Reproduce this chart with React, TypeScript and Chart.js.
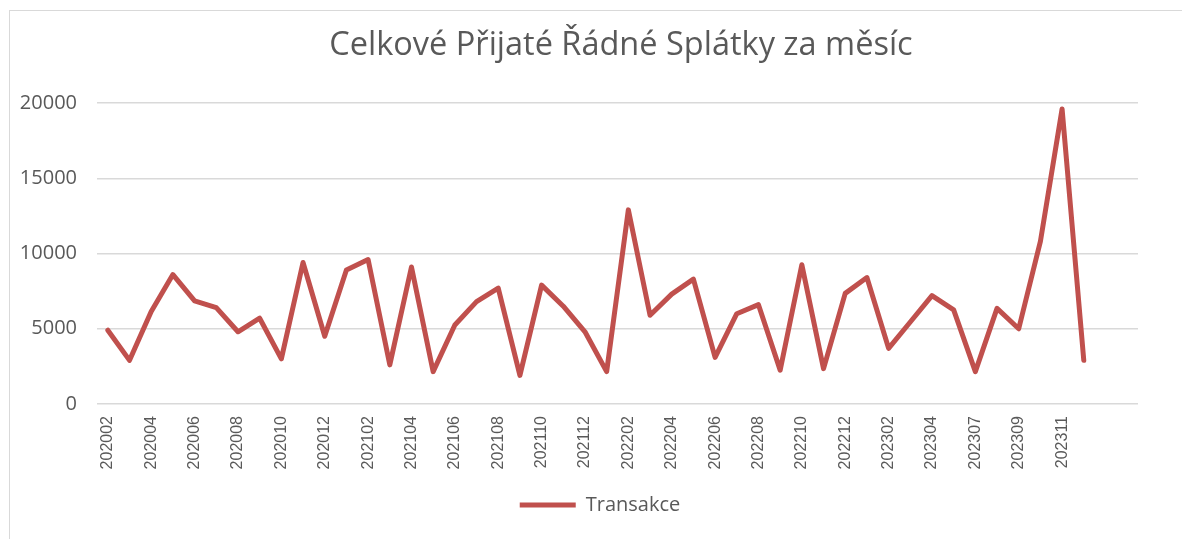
import { useEffect, useRef } from 'react';
import { Chart, registerables } from 'chart.js';

Chart.register(...registerables);

const chartTitle = 'Celkové Přijaté Řádné Splátky za měsíc';
const seriesName = 'Transakce';

const categories = [
  '202002', '202003', '202004', '202005', '202006', '202007', '202008', '202009', '202010', '202011', '202012',
  '202101', '202102', '202103', '202104', '202105', '202106', '202107', '202108', '202109', '202110', '202111', '202112',
  '202201', '202202', '202203', '202204', '202205', '202206', '202207', '202208', '202209', '202210', '202211', '202212',
  '202301', '202302', '202303', '202304', '202306', '202307', '202308', '202309', '202310', '202311', '202312',
  '', '',
];

const values = [
  4900, 2900, 6150, 8600, 6850, 6400, 4800, 5700, 3000, 9400, 4500,
  8900, 9600, 2600, 9100, 2150, 5250, 6800, 7700, 1900, 7900, 6500, 4800,
  2150, 12900, 5900, 7300, 8300, 3100, 6000, 6600, 2250, 9250, 2350, 7350,
  8400, 3700, 5450, 7200, 6250, 2150, 6350, 5000, 10800, 19600, 2900,
  null, null,
];

const yTicks = [0, 5000, 10000, 15000, 20000];

const lineColor = '#C0504D';
const textColor = '#595959';
const gridColor = '#d9d9d9';

const shiftLegend = {
  id: 'shiftLegend',
  afterLayout(chart: any) {
    if (chart.legend) {
      chart.legend.left -= 21;
      chart.legend.right -= 21;
    }
  },
};

export default function App() {
  const ref = useRef<HTMLCanvasElement>(null);

  useEffect(() => {
    const chart = new Chart(ref.current as HTMLCanvasElement, {
      type: 'line',
      data: {
        labels: categories,
        datasets: [
          {
            label: seriesName,
            data: values,
            borderColor: lineColor,
            backgroundColor: lineColor,
            borderWidth: 5,
            pointRadius: 0,
            pointHoverRadius: 0,
            tension: 0,
            borderJoinStyle: 'round',
            borderCapStyle: 'round',
            spanGaps: false,
          },
        ],
      },
      options: {
        responsive: false,
        animation: false,
        layout: { padding: { top: 10, left: 10, right: 0, bottom: 14 } },
        plugins: {
          title: {
            display: true,
            text: chartTitle,
            color: textColor,
            font: { family: 'Open Sans', size: 32.5, weight: '400' },
            padding: { top: 16, bottom: 38 },
          },
          legend: {
            position: 'bottom',
            labels: {
              usePointStyle: true,
              pointStyle: 'line',
              pointStyleWidth: 56,
              color: textColor,
              font: { family: 'Open Sans', size: 20 },
              padding: 10,
            },
          },
          tooltip: { enabled: false },
        },
        scales: {
          x: {
            offset: true,
            grid: { display: false, drawTicks: false },
            border: { display: false },
            ticks: {
              autoSkip: false,
              maxRotation: 90,
              minRotation: 90,
              padding: 12,
              color: textColor,
              font: { family: 'Liberation Sans', size: 16 },
              callback: (_v: any, i: number) => (i % 2 === 0 ? categories[i] : ''),
            },
            afterFit: (s: any) => {
              s.height = 81;
            },
          },
          y: {
            min: yTicks[0],
            max: yTicks[yTicks.length - 1],
            afterBuildTicks: (s: any) => {
              s.ticks = yTicks.map((v) => ({ value: v }));
            },
            ticks: {
              padding: 20,
              color: textColor,
              font: { family: 'Open Sans', size: 20 },
              callback: (v: any) => String(v),
            },
            grid: { color: gridColor, lineWidth: 1.5, drawTicks: false },
            border: { display: false },
            afterFit: (s: any) => {
              s.width = 87;
            },
          },
          y2: {
            position: 'right',
            display: true,
            grid: { display: false, drawTicks: false },
            ticks: { display: false },
            border: { display: false },
            afterFit: (s: any) => {
              s.width = 94;
            },
          },
        },
      },
      plugins: [shiftLegend],
    } as any);
    return () => chart.destroy();
  }, []);

  return (
    <div style={{ position: 'fixed', left: 0, top: 0, width: 1182, height: 539, overflow: 'hidden', background: '#fff' }}>
      <div
        style={{
          position: 'absolute',
          left: 9,
          top: 10,
          width: 2000,
          height: 2000,
          borderTop: '1.5px solid #d9d9d9',
          borderLeft: '1.5px solid #d9d9d9',
        }}
      />
      <canvas ref={ref} width={1232} height={539} style={{ position: 'absolute', left: 0, top: 0, width: 1232, height: 539 }} />
    </div>
  );
}
